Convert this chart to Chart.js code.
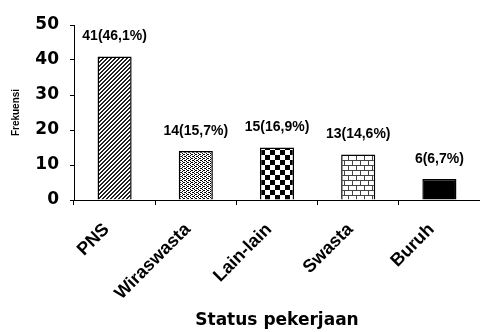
<!DOCTYPE html>
<html>
<head>
<meta charset="utf-8">
<script src="https://cdn.jsdelivr.net/npm/chart.js@4/dist/chart.umd.min.js"></script>
<style>
  html, body { margin: 0; padding: 0; background: #fff; }
  #wrap { width: 480px; height: 332px; }
</style>
</head>
<body>
<div id="wrap"><canvas id="c" width="480" height="332"></canvas></div>
<script>
// Employment status of respondents
const categories = ['PNS', 'Wiraswasta', 'Lain-lain', 'Swasta', 'Buruh'];
const counts = [41, 14, 15, 13, 6];
const yTicks = [0, 10, 20, 30, 40, 50];
const yTitle = 'Frekuensi';
const xTitle = 'Status pekerjaan';

const total = counts.reduce((a, b) => a + b, 0);
const valueLabels = counts.map(v => `${v}(${(v / total * 100).toFixed(1).replace('.', ',')}%)`);

// Monochrome fill textures, one per bar
function tile(w, h, paint) {
  const cv = document.createElement('canvas');
  cv.width = w; cv.height = h;
  const g = cv.getContext('2d');
  g.fillStyle = '#fff';
  g.fillRect(0, 0, w, h);
  paint(g);
  return g.createPattern(cv, 'repeat');
}
const hatch = tile(4, 4, g => {
  g.fillStyle = '#222';
  for (let x = 0; x < 4; x++) for (let y = 0; y < 4; y++) {
    if ((x + y) % 4 < 2) g.fillRect(x, y, 1, 1);
  }
});
const dots = tile(4, 4, g => {
  g.fillStyle = '#000';
  g.fillRect(0, 0, 1, 1);
  g.fillRect(2, 1, 1, 1);
  g.fillRect(0, 2, 1, 1);
  g.fillRect(2, 3, 1, 1);
  g.fillRect(1, 0, 1, 1);
  g.fillRect(3, 2, 1, 1);
});
const checker = tile(10, 10, g => {
  g.fillStyle = '#000';
  g.fillRect(0, 0, 5, 5);
  g.fillRect(5, 5, 5, 5);
});
const brick = tile(16, 10, g => {
  g.fillStyle = '#444';
  g.fillRect(0, 0, 16, 1);
  g.fillRect(0, 5, 16, 1);
  g.fillRect(0, 0, 1, 5);
  g.fillRect(8, 0, 1, 5);
  g.fillRect(4, 5, 1, 5);
  g.fillRect(12, 5, 1, 5);
});
const fills = [hatch, dots, checker, brick, '#000'];

const valueLabelPlugin = {
  id: 'valueLabels',
  afterDatasetsDraw(chart) {
    const ctx = chart.ctx;
    const meta = chart.getDatasetMeta(0);
    ctx.save();
    ctx.font = 'bold 14px "Liberation Sans", Arial, sans-serif';
    ctx.fillStyle = '#000';
    ctx.textAlign = 'center';
    ctx.textBaseline = 'middle';
    meta.data.forEach((bar, i) => {
      ctx.fillText(valueLabels[i], bar.x, bar.y - 20);
    });
    ctx.restore();
  }
};

new Chart(document.getElementById('c'), {
  type: 'bar',
  data: {
    labels: categories,
    datasets: [{
      data: counts,
      backgroundColor: fills,
      borderColor: '#000',
      borderWidth: 1.5,
      categoryPercentage: 1,
      barPercentage: 0.42
    }]
  },
  options: {
    responsive: false,
    devicePixelRatio: 1,
    animation: false,
    layout: { padding: { top: 25, right: -3, left: 0, bottom: 0 } },
    plugins: { legend: { display: false }, tooltip: { enabled: false } },
    scales: {
      y: {
        min: 0,
        max: 50,
        afterBuildTicks: s => { s.ticks = yTicks.map(v => ({ value: v })); },
        afterFit: s => { s.width = 74; },
        ticks: {
          color: '#000',
          padding: 11,
          font: { family: '"DejaVu Sans", sans-serif', weight: 'bold', size: 17 }
        },
        grid: { drawOnChartArea: false, drawTicks: true, tickLength: 4, color: '#000', lineWidth: 1 },
        border: { display: true, color: '#000', width: 1 },
        title: {
          display: true,
          text: yTitle,
          color: '#000',
          padding: { top: 10, bottom: 0 },
          font: { family: '"Liberation Sans", Arial, sans-serif', weight: 'bold', size: 10 }
        }
      },
      x: {
        afterFit: s => { s.height = 132; },
        ticks: {
          color: '#000',
          minRotation: 45,
          maxRotation: 45,
          labelOffset: -8,
          padding: 14,
          autoSkip: false,
          font: { family: '"Liberation Sans", Arial, sans-serif', weight: 'bold', size: 18 }
        },
        grid: { drawOnChartArea: false, drawTicks: true, tickLength: 5, color: '#000', lineWidth: 1, offset: true },
        border: { display: true, color: '#000', width: 1 },
        title: {
          display: true,
          text: xTitle,
          color: '#000',
          padding: { top: 0, bottom: 1 },
          font: { family: '"DejaVu Sans", sans-serif', weight: 'bold', size: 17 }
        }
      }
    }
  },
  plugins: [valueLabelPlugin]
});
</script>
</body>
</html>
